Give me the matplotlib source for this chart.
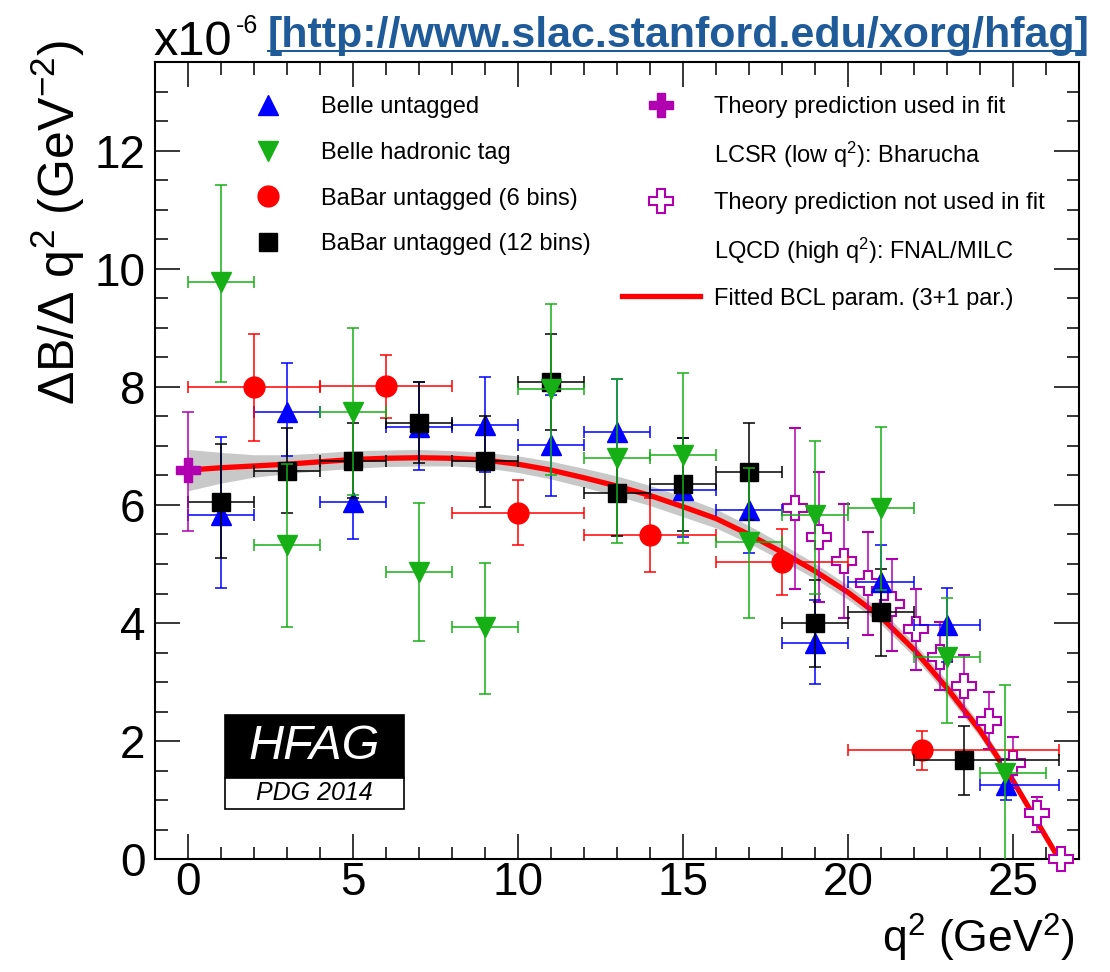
import matplotlib
matplotlib.use("Agg")
import matplotlib.pyplot as plt
from matplotlib.lines import Line2D
from matplotlib.patches import Rectangle
from matplotlib.ticker import MultipleLocator
import numpy as np

plt.rcParams['font.family'] = ['Liberation Sans', 'DejaVu Sans']
plt.rcParams['mathtext.fontset'] = 'custom'
plt.rcParams['mathtext.rm'] = 'Liberation Sans'
plt.rcParams['mathtext.it'] = 'Liberation Sans:italic'
plt.rcParams['mathtext.bf'] = 'Liberation Sans:bold'

# ---------------- data ----------------
# Belle untagged
bu_x = [1, 3, 5, 7, 9, 11, 13, 15, 17, 19, 21, 23, 24.8]
bu_lo = [0, 2, 4, 6, 8, 10, 12, 14, 16, 18, 20, 22, 24]
bu_hi = [2, 4, 6, 8, 10, 12, 14, 16, 18, 20, 22, 24, 26.4]
bu_y = [5.83, 7.58, 6.05, 7.32, 7.35, 7.01, 7.24, 6.25, 5.91, 3.66, 4.70, 3.97, 1.26]
bu_elo = [1.24, 0.75, 0.62, 0.73, 0.80, 0.86, 0.90, 0.79, 0.73, 0.69, 0.62, 0.63, 0.25]
bu_ehi = [1.32, 0.83, 0.62, 0.77, 0.82, 0.86, 0.90, 0.88, 0.73, 0.73, 0.62, 0.63, 0.35]

# Belle hadronic tag
bh_x = [1, 3, 5, 7, 9, 11, 13, 15, 17, 19, 21, 23, 24.75]
bh_lo = [0, 2, 4, 6, 8, 10, 12, 14, 16, 18, 20, 22, 24]
bh_hi = [2, 4, 6, 8, 10, 12, 14, 16, 18, 20, 22, 24, 26]
bh_y = [9.78, 5.32, 7.58, 4.87, 3.93, 7.97, 6.79, 6.84, 5.38, 5.83, 5.94, 3.43, 1.46]
bh_elo = [1.69, 1.38, 1.41, 1.18, 1.13, 1.47, 1.43, 1.48, 1.30, 1.33, 1.38, 1.13, 1.55]
bh_ehi = [1.64, 1.38, 1.41, 1.16, 1.09, 1.43, 1.35, 1.40, 1.24, 1.25, 1.38, 0.99, 1.49]

# BaBar untagged (6 bins)
b6_x = [2, 6, 10, 14, 18, 22.25]
b6_lo = [0, 4, 8, 12, 16, 20]
b6_hi = [4, 8, 12, 16, 20, 26.4]
b6_y = [8.00, 8.01, 5.87, 5.49, 5.04, 1.85]
b6_elo = [0.92, 0.53, 0.55, 0.62, 0.57, 0.34]
b6_ehi = [0.90, 0.53, 0.55, 0.62, 0.56, 0.33]

# BaBar untagged (12 bins)
b12_x = [1, 3, 5, 7, 9, 11, 13, 15, 17, 19, 21, 23.5]
b12_lo = [0, 2, 4, 6, 8, 10, 12, 14, 16, 18, 20, 22]
b12_hi = [2, 4, 6, 8, 10, 12, 14, 16, 18, 20, 22, 26.4]
b12_y = [6.05, 6.58, 6.75, 7.39, 6.75, 8.09, 6.21, 6.35, 6.56, 4.00, 4.18, 1.68]
b12_elo = [0.95, 0.71, 0.63, 0.68, 0.78, 0.82, 0.74, 0.79, 0.82, 0.74, 0.74, 0.59]
b12_ehi = [0.99, 0.72, 0.63, 0.70, 0.76, 0.80, 0.72, 0.78, 0.82, 0.73, 0.73, 0.57]

# Theory used in fit (LCSR)
tu_x = [0.0]
tu_y = [6.59]
tu_elo = [1.03]
tu_ehi = [0.99]

# Theory not used in fit (LQCD)
tn_x = [18.38, 19.12, 19.87, 20.60, 21.33, 22.07, 22.80, 23.53, 24.26, 25.00, 25.73, 26.46]
tn_y = [5.95, 5.46, 5.05, 4.67, 4.32, 3.90, 3.43, 2.94, 2.34, 1.63, 0.78, 0.00]
tn_elo = [1.38, 1.10, 0.97, 0.87, 0.80, 0.70, 0.57, 0.53, 0.48, 0.43, 0.31, 0.00]
tn_ehi = [1.36, 1.10, 0.96, 0.88, 0.76, 0.67, 0.58, 0.52, 0.50, 0.44, 0.27, 0.00]

# Fitted BCL curve and its uncertainty band
fit_q2 = [0, 1, 2, 3, 4, 5, 6, 7, 8, 9, 10, 11, 12, 13, 14, 15, 16, 17, 18,
          19, 20, 21, 22, 23, 24, 25, 26, 26.4]
fit_y = [6.59, 6.63, 6.66, 6.69, 6.73, 6.77, 6.79, 6.80, 6.79, 6.76, 6.69, 6.59,
         6.46, 6.32, 6.16, 5.97, 5.77, 5.50, 5.20, 4.88, 4.52, 4.10, 3.55, 2.90,
         2.18, 1.33, 0.38, 0.00]
fit_band = [0.35, 0.26, 0.19, 0.16, 0.15, 0.15, 0.14, 0.14, 0.13, 0.13, 0.14, 0.15,
            0.16, 0.17, 0.17, 0.17, 0.16, 0.15, 0.14, 0.13, 0.12, 0.12, 0.12, 0.12,
            0.11, 0.09, 0.05, 0.00]

# ---------------- styles ----------------
C_BLUE = '#0000ff'
C_GREEN = '#16b016'
C_RED = '#ff0000'
C_BLACK = '#000000'
C_MAG = '#b000b0'
C_LINK = '#1f5a99'

fig = plt.figure(figsize=(11.10, 9.72), dpi=100)
ax = fig.add_axes([155 / 1110, 1 - 859.3 / 972, 924 / 1110, 797.3 / 972])
ax.set_xlim(-1, 27)
ax.set_ylim(0, 13.5)

fq = np.array(fit_q2)
fy = np.array(fit_y)
fb = np.array(fit_band)
ax.fill_between(fq, fy - fb, fy + fb, color='#c8c8c8', lw=0, zorder=1)
ax.plot(fq, fy, color=C_RED, lw=3.8, zorder=2, solid_capstyle='butt')

ekw = dict(elinewidth=1.1, capsize=4, capthick=1.1, ls='none')


def xerrs(x, lo, hi):
    x = np.array(x, float)
    return [x - np.array(lo, float), np.array(hi, float) - x]


# theory not used (open crosses)
ax.errorbar(tn_x, tn_y, yerr=[tn_elo, tn_ehi], fmt='P', ms=17, mfc='white',
            mec=C_MAG, mew=1.5, color=C_MAG, zorder=3, clip_on=False, **ekw)
# Belle untagged
ax.errorbar(bu_x, bu_y, xerr=xerrs(bu_x, bu_lo, bu_hi), yerr=[bu_elo, bu_ehi],
            fmt='^', ms=15, color=C_BLUE, zorder=4, **ekw)
# BaBar 6 bins
ax.errorbar(b6_x, b6_y, xerr=xerrs(b6_x, b6_lo, b6_hi), yerr=[b6_elo, b6_ehi],
            fmt='o', ms=15, color=C_RED, zorder=5, **ekw)
# BaBar 12 bins
ax.errorbar(b12_x, b12_y, xerr=xerrs(b12_x, b12_lo, b12_hi), yerr=[b12_elo, b12_ehi],
            fmt='s', ms=13, color=C_BLACK, zorder=6, **ekw)
# Belle hadronic tag
ax.errorbar(bh_x, bh_y, xerr=xerrs(bh_x, bh_lo, bh_hi), yerr=[bh_elo, bh_ehi],
            fmt='v', ms=15, color=C_GREEN, zorder=7, **ekw)
# theory used (filled cross)
ax.errorbar(tu_x, tu_y, yerr=[tu_elo, tu_ehi], fmt='P', ms=17, color=C_MAG,
            zorder=8, clip_on=False, **ekw)

# ---------------- axes styling ----------------
for s in ax.spines.values():
    s.set_linewidth(1.5)
ax.xaxis.set_major_locator(MultipleLocator(5))
ax.xaxis.set_minor_locator(MultipleLocator(1))
ax.yaxis.set_major_locator(MultipleLocator(2))
ax.yaxis.set_minor_locator(MultipleLocator(0.5))
ax.tick_params(which='both', direction='in', top=True, right=True, width=1.1)
ax.tick_params(which='major', length=18, labelsize=33)
ax.tick_params(which='minor', length=9)
ax.tick_params(axis='x', which='major', pad=1)
ax.tick_params(axis='y', which='major', pad=7)

ax.set_ylabel('ΔB/Δ q$^{2}$ (GeV$^{-2}$)', fontsize=36, loc='top')
ax.yaxis.set_label_coords(-0.074, 1.028)
ax.set_xlabel('q$^{2}$ (GeV$^{2}$)', fontsize=32, loc='right')
ax.xaxis.set_label_coords(0.996, -0.066)

fig.text(153 / 1110, 1 - 55 / 972, 'x10', fontsize=35, ha='left', va='baseline')
fig.text(236 / 1110, 1 - 33 / 972, '-6', fontsize=18, ha='left', va='baseline')

fig.text(268 / 1110, 1 - 47 / 972, '[http://www.slac.stanford.edu/xorg/hfag]',
         fontsize=31, fontweight='bold', color=C_LINK, ha='left', va='baseline')
fig.add_artist(Line2D([268 / 1110, 1085 / 1110], [1 - 51 / 972, 1 - 51 / 972],
                      color=C_LINK, lw=1.5))

# ---------------- legends ----------------
h_left = [
    Line2D([], [], ls='none', marker='^', ms=15, color=C_BLUE),
    Line2D([], [], ls='none', marker='v', ms=15, color=C_GREEN),
    Line2D([], [], ls='none', marker='o', ms=15, color=C_RED),
    Line2D([], [], ls='none', marker='s', ms=13, color=C_BLACK),
]
l_left = ['Belle untagged', 'Belle hadronic tag', 'BaBar untagged (6 bins)',
          'BaBar untagged (12 bins)']
leg1 = ax.legend(h_left, l_left, loc='upper left', bbox_to_anchor=(0.0801, 0.957),
                 frameon=False, fontsize=17, handlelength=3.3, handletextpad=0.6,
                 labelspacing=1.0, borderpad=0, borderaxespad=0)
ax.add_artist(leg1)

h_right = [
    Line2D([], [], ls='none', marker='P', ms=17, color=C_MAG),
    Line2D([], [], ls='none'),
    Line2D([], [], ls='none', marker='P', ms=17, mfc='white', mec=C_MAG, mew=1.5),
    Line2D([], [], ls='none'),
    Line2D([], [], color=C_RED, lw=3.8),
]
l_right = ['Theory prediction used in fit', 'LCSR (low q$^{2}$): Bharucha',
           'Theory prediction not used in fit', 'LQCD (high q$^{2}$): FNAL/MILC',
           'Fitted BCL param. (3+1 par.)']
ax.legend(h_right, l_right, loc='upper left', bbox_to_anchor=(0.5054, 0.957),
          frameon=False, fontsize=17, handlelength=3.3, handletextpad=0.6,
          labelspacing=0.92, borderpad=0, borderaxespad=0)

# ---------------- HFAG logo ----------------
x0, x1 = (225 - 155) / 924, (404 - 155) / 924
yb, ym, yt = (859.3 - 809) / 797.3, (859.3 - 778) / 797.3, (859.3 - 715) / 797.3
ax.add_patch(Rectangle((x0, ym), x1 - x0, yt - ym, transform=ax.transAxes,
                       facecolor='black', edgecolor='black', lw=1.2, zorder=10))
ax.add_patch(Rectangle((x0, yb), x1 - x0, ym - yb, transform=ax.transAxes,
                       facecolor='white', edgecolor='black', lw=1.2, zorder=10))
ax.text((x0 + x1) / 2, (ym + yt) / 2, 'HFAG', transform=ax.transAxes, color='white',
        fontsize=35, style='italic', ha='center', va='center', zorder=11)
ax.text((x0 + x1) / 2, (yb + ym) / 2, 'PDG 2014', transform=ax.transAxes, color='black',
        fontsize=18, style='italic', ha='center', va='center', zorder=11)

fig.savefig('out.png', dpi=100)
